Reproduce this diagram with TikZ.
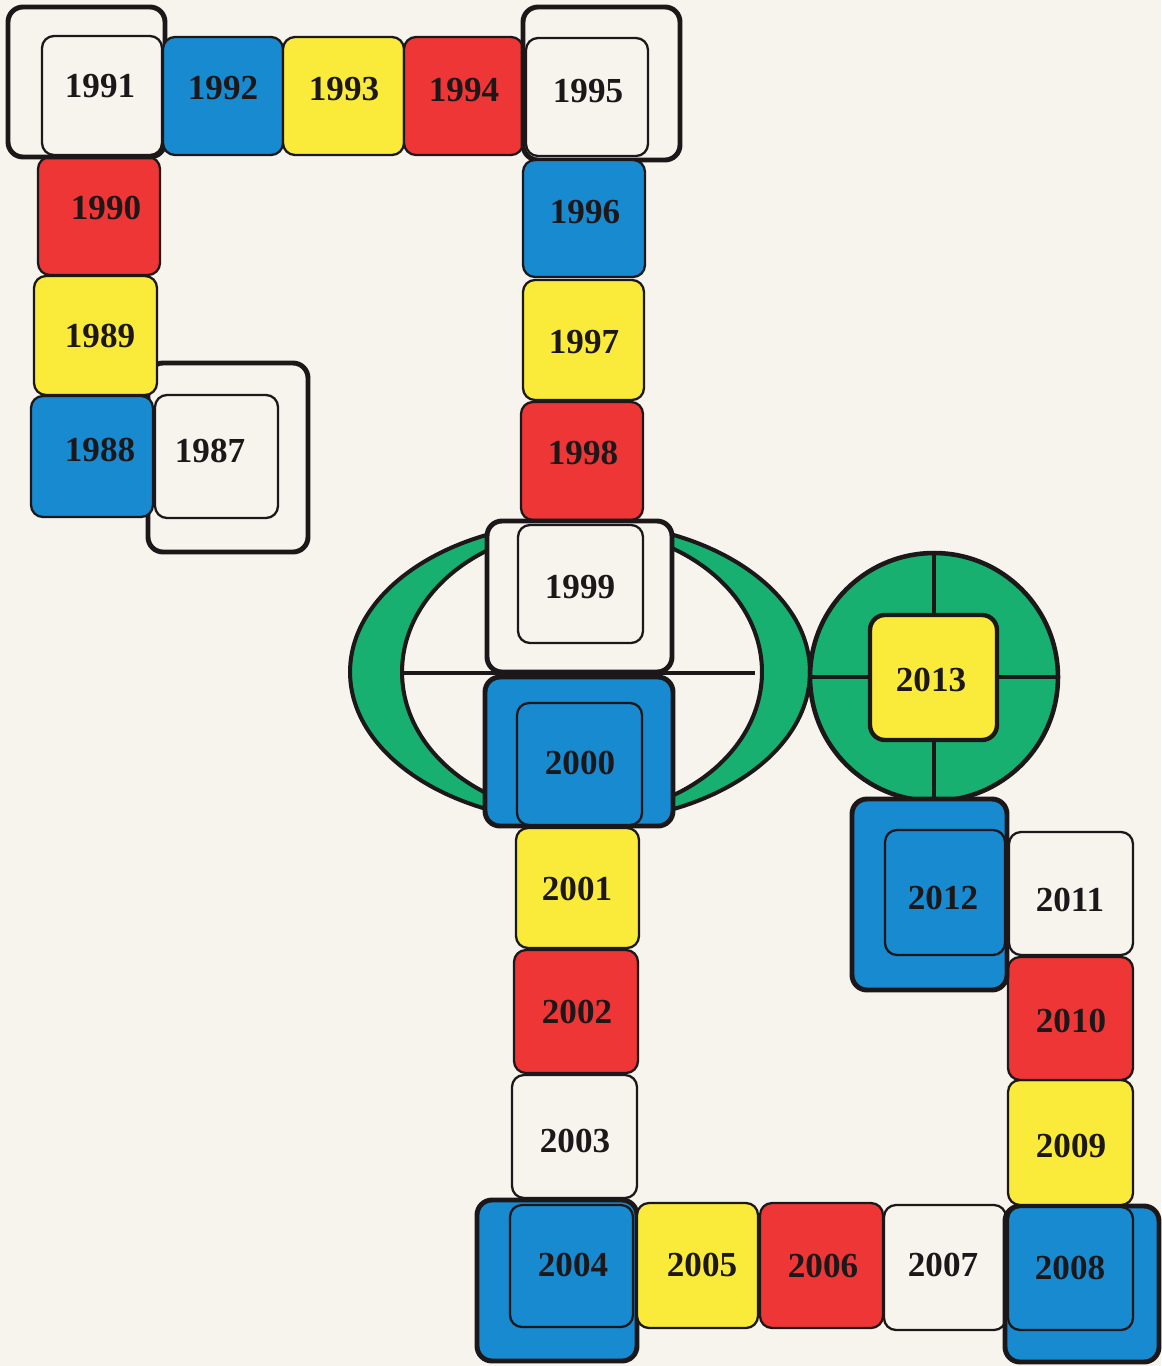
\documentclass[tikz,border=0pt]{standalone}
\usepackage{fontspec}
\setmainfont{Liberation Serif}
\usetikzlibrary{fit}
\definecolor{paper}{RGB}{247,243,237}
\definecolor{ink}{RGB}{28,24,26}
\definecolor{cblue}{RGB}{24,138,208}
\definecolor{cyellow}{RGB}{250,234,58}
\definecolor{cred}{RGB}{238,54,54}
\definecolor{cgreen}{RGB}{24,176,112}
\newcommand\yrfont{\fontsize{20}{20}\selectfont\bfseries}
\tikzset{
  tile/.style={draw=ink, line width=1.3pt, rounded corners=0.24cm, inner sep=0pt, fill=paper},
  frame/.style={draw=ink, line width=2.8pt, rounded corners=0.3cm, inner sep=0pt, fill=paper},
  yr/.style={font=\yrfont, text=ink, inner sep=0pt},
}
\begin{document}
\begin{tikzpicture}[x=0.02cm,y=-0.02cm]
\fill[paper] (0,0) rectangle (1161,1366);
\useasboundingbox (0,0) rectangle (1161,1366);

% ---- ellipse emblem ----
\fill[cgreen, even odd rule] (580,672) ellipse [x radius=4.6cm, y radius=3.0cm]
  (582,672) ellipse [x radius=3.6cm, y radius=2.86cm];
\draw[ink, line width=2.3pt] (580,672) ellipse [x radius=4.6cm, y radius=3.0cm];
\draw[ink, line width=2.3pt] (582,672) ellipse [x radius=3.6cm, y radius=2.86cm];
\draw[ink, line width=1.8pt] (402,673) -- (755,673);

% ---- circle emblem ----
\fill[cgreen] (934,677) circle [radius=2.48cm];
\draw[ink, line width=2.2pt] (934,553) -- (934,801) (810,677) -- (1058,677);
\draw[ink, line width=2.6pt] (934,677) circle [radius=2.48cm];

% ---- left column / top row ----
\node[frame, fit={(148,363)(308,552)}] (o1987) {};
\node[tile, fit={(155,395)(278,518)}] (b1987) {};
\node[tile, fill=cblue, fit={(31,396)(153,517)}] (b1988) {};
\node[tile, fill=cyellow, fit={(34,276)(157,395)}] (b1989) {};
\node[tile, fill=cred, fit={(38,157)(160,275)}] (b1990) {};
\node[frame, fit={(8,7)(165,157)}] (o1991) {};
\node[tile, fit={(42,36)(162,155)}] (b1991) {};
\node[tile, fill=cblue, fit={(163,37)(283,155)}] (b1992) {};
\node[tile, fill=cyellow, fit={(283,37)(404,155)}] (b1993) {};
\node[tile, fill=cred, fit={(404,37)(523,155)}] (b1994) {};
\node[frame, fit={(523,7)(680,160)}] (o1995) {};
\node[tile, fit={(526,38)(648,156)}] (b1995) {};
\node[tile, fill=cblue, fit={(523,160)(645,277)}] (b1996) {};
\node[tile, fill=cyellow, fit={(523,280)(644,400)}] (b1997) {};
\node[tile, fill=cred, fit={(521,402)(643,520)}] (b1998) {};

% ---- centre column ----
\node[frame, fit={(487,521)(672,672)}] (o1999) {};
\node[tile, fit={(518,525)(643,643)}] (b1999) {};
\node[frame, fill=cblue, fit={(485,677)(673,826)}] (o2000) {};
\node[tile, fill=cblue, fit={(517,703)(642,825)}] (b2000) {};
\node[tile, fill=cyellow, fit={(516,828)(639,948)}] (b2001) {};
\node[tile, fill=cred, fit={(514,950)(638,1073)}] (b2002) {};
\node[tile, fit={(512,1075)(637,1198)}] (b2003) {};
\node[frame, fill=cblue, fit={(477,1200)(637,1361)}] (o2004) {};
\node[tile, fill=cblue, fit={(510,1205)(633,1327)}] (b2004) {};
\node[tile, fill=cyellow, fit={(637,1203)(758,1328)}] (b2005) {};
\node[tile, fill=cred, fit={(760,1203)(883,1328)}] (b2006) {};
\node[tile, fit={(884,1205)(1006,1330)}] (b2007) {};
\node[frame, fill=cblue, fit={(1005,1206)(1159,1362)}] (o2008) {};
\node[tile, fill=cblue, fit={(1008,1207)(1133,1330)}] (b2008) {};
\node[tile, fill=cyellow, fit={(1008,1080)(1133,1205)}] (b2009) {};
\node[tile, fill=cred, fit={(1008,957)(1133,1080)}] (b2010) {};
\node[tile, fit={(1009,832)(1133,955)}] (b2011) {};
\node[frame, fill=cblue, fit={(852,799)(1007,990)}] (o2012) {};
\node[tile, fill=cblue, fit={(885,830)(1005,955)}] (b2012) {};
\node[frame, fill=cyellow, line width=2.5pt, fit={(870,615)(997,740)}] (b2013) {};

% ---- years ----
\node[yr] (t1987) at (210,451) {1987};
\node[yr] (t1988) at (100,450) {1988};
\node[yr] (t1989) at (100,336) {1989};
\node[yr] (t1990) at (106,208) {1990};
\node[yr] (t1991) at (100,86) {1991};
\node[yr] (t1992) at (223,88) {1992};
\node[yr] (t1993) at (344,89) {1993};
\node[yr] (t1994) at (464,90) {1994};
\node[yr] (t1995) at (588,91) {1995};
\node[yr] (t1996) at (585,212) {1996};
\node[yr] (t1997) at (584,342) {1997};
\node[yr] (t1998) at (583,453) {1998};
\node[yr] (t1999) at (580,587) {1999};
\node[yr] (t2000) at (580,763) {2000};
\node[yr] (t2001) at (577,889) {2001};
\node[yr] (t2002) at (577,1012) {2002};
\node[yr] (t2003) at (575,1141) {2003};
\node[yr] (t2004) at (573,1265) {2004};
\node[yr] (t2005) at (702,1265) {2005};
\node[yr] (t2006) at (823,1266) {2006};
\node[yr] (t2007) at (943,1265) {2007};
\node[yr] (t2008) at (1070,1268) {2008};
\node[yr] (t2009) at (1071,1146) {2009};
\node[yr] (t2010) at (1071,1021) {2010};
\node[yr] (t2011) at (1070,900) {2011};
\node[yr] (t2012) at (943,898) {2012};
\node[yr] (t2013) at (931,680) {2013};
\end{tikzpicture}
\end{document}
